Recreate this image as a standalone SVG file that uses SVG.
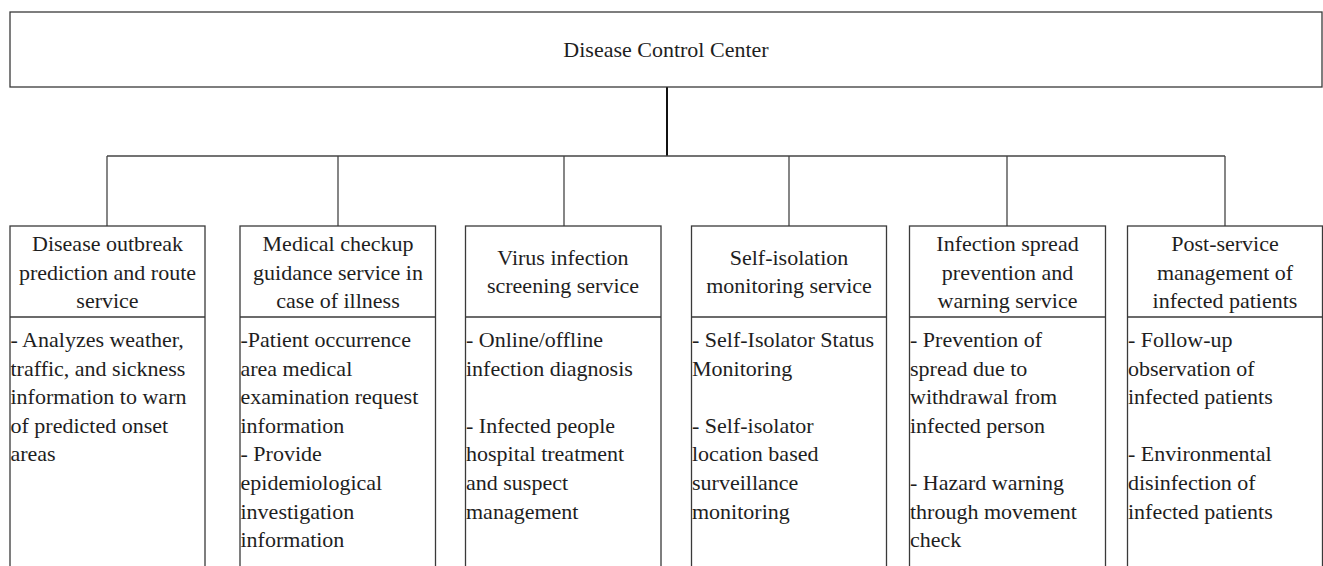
<svg xmlns="http://www.w3.org/2000/svg" width="1323" height="566" viewBox="0 0 1323 566">
  <style>
    .box { fill: #ffffff; stroke: #3a3a3a; stroke-width: 1.3; }
    .div { stroke: #3a3a3a; stroke-width: 1.3; }
    .link { fill: none; stroke: #444444; stroke-width: 1.3; }
    .trunk { fill: none; stroke: #111111; stroke-width: 2; }
    text { font-family: "Liberation Serif", "Times New Roman", serif; font-size: 22px; fill: #1e1e1e; }
    .c { text-anchor: middle; }
  </style>
  <rect width="1323" height="566" fill="#ffffff"/>

  <!-- connectors -->
  <g id="connectors">
    <line class="trunk" x1="667" y1="87" x2="667" y2="156"/>
    <line class="link" x1="107" y1="156" x2="1225" y2="156"/>
    <line class="link" x1="107" y1="156" x2="107" y2="226"/>
    <line class="link" x1="338" y1="156" x2="338" y2="226"/>
    <line class="link" x1="564" y1="156" x2="564" y2="226"/>
    <line class="link" x1="789" y1="156" x2="789" y2="226"/>
    <line class="link" x1="1007" y1="156" x2="1007" y2="226"/>
    <line class="link" x1="1225" y1="156" x2="1225" y2="226"/>
  </g>

  <!-- root -->
  <g id="root">
    <rect class="box" x="10" y="12" width="1312" height="75"/>
    <text class="c" x="666" y="57.3">Disease Control Center</text>
  </g>

  <!-- service 1 -->
  <g id="svc-outbreak">
    <rect class="box" x="10" y="226" width="195" height="360"/>
    <line class="div" x1="10" y1="317" x2="205" y2="317"/>
    <text class="c" x="107.5" y="251">Disease outbreak</text>
    <text class="c" x="107.5" y="279.5">prediction and route</text>
    <text class="c" x="107.5" y="308">service</text>
    <text x="10.5" y="347">- Analyzes weather,</text>
    <text x="10.5" y="375.6">traffic, and sickness</text>
    <text x="10.5" y="404.2">information to warn</text>
    <text x="10.5" y="432.8">of predicted onset</text>
    <text x="10.5" y="461.4">areas</text>
  </g>

  <!-- service 2 -->
  <g id="svc-checkup">
    <rect class="box" x="240" y="226" width="195.5" height="360"/>
    <line class="div" x1="240" y1="317" x2="435.5" y2="317"/>
    <text class="c" x="338" y="251">Medical checkup</text>
    <text class="c" x="338" y="279.5">guidance service in</text>
    <text class="c" x="338" y="308">case of illness</text>
    <text x="240.5" y="347">-Patient occurrence</text>
    <text x="240.5" y="375.6">area medical</text>
    <text x="240.5" y="404.2">examination request</text>
    <text x="240.5" y="432.8">information</text>
    <text x="240.5" y="461.4">- Provide</text>
    <text x="240.5" y="490">epidemiological</text>
    <text x="240.5" y="518.6">investigation</text>
    <text x="240.5" y="547.2">information</text>
  </g>

  <!-- service 3 -->
  <g id="svc-screening">
    <rect class="box" x="465.5" y="226" width="195.5" height="360"/>
    <line class="div" x1="465.5" y1="317" x2="661" y2="317"/>
    <text class="c" x="563" y="265">Virus infection</text>
    <text class="c" x="563" y="293">screening service</text>
    <text x="466" y="347">- Online/offline</text>
    <text x="466" y="375.6">infection diagnosis</text>
    <text x="466" y="432.8">- Infected people</text>
    <text x="466" y="461.4">hospital treatment</text>
    <text x="466" y="490">and suspect</text>
    <text x="466" y="518.6">management</text>
  </g>

  <!-- service 4 -->
  <g id="svc-isolation">
    <rect class="box" x="691.5" y="226" width="195" height="360"/>
    <line class="div" x1="691.5" y1="317" x2="886.5" y2="317"/>
    <text class="c" x="789" y="265">Self-isolation</text>
    <text class="c" x="789" y="293">monitoring service</text>
    <text x="692" y="347">- Self-Isolator Status</text>
    <text x="692" y="375.6">Monitoring</text>
    <text x="692" y="432.8">- Self-isolator</text>
    <text x="692" y="461.4">location based</text>
    <text x="692" y="490">surveillance</text>
    <text x="692" y="518.6">monitoring</text>
  </g>

  <!-- service 5 -->
  <g id="svc-spread">
    <rect class="box" x="909.5" y="226" width="196" height="360"/>
    <line class="div" x1="909.5" y1="317" x2="1105.5" y2="317"/>
    <text class="c" x="1007.5" y="251">Infection spread</text>
    <text class="c" x="1007.5" y="279.5">prevention and</text>
    <text class="c" x="1007.5" y="308">warning service</text>
    <text x="910" y="347">- Prevention of</text>
    <text x="910" y="375.6">spread due to</text>
    <text x="910" y="404.2">withdrawal from</text>
    <text x="910" y="432.8">infected person</text>
    <text x="910" y="490">- Hazard warning</text>
    <text x="910" y="518.6">through movement</text>
    <text x="910" y="547.2">check</text>
  </g>

  <!-- service 6 -->
  <g id="svc-post">
    <rect class="box" x="1127.5" y="226" width="195" height="360"/>
    <line class="div" x1="1127.5" y1="317" x2="1322.5" y2="317"/>
    <text class="c" x="1225" y="251">Post-service</text>
    <text class="c" x="1225" y="279.5">management of</text>
    <text class="c" x="1225" y="308">infected patients</text>
    <text x="1128" y="347">- Follow-up</text>
    <text x="1128" y="375.6">observation of</text>
    <text x="1128" y="404.2">infected patients</text>
    <text x="1128" y="461.4">- Environmental</text>
    <text x="1128" y="490">disinfection of</text>
    <text x="1128" y="518.6">infected patients</text>
  </g>
</svg>
